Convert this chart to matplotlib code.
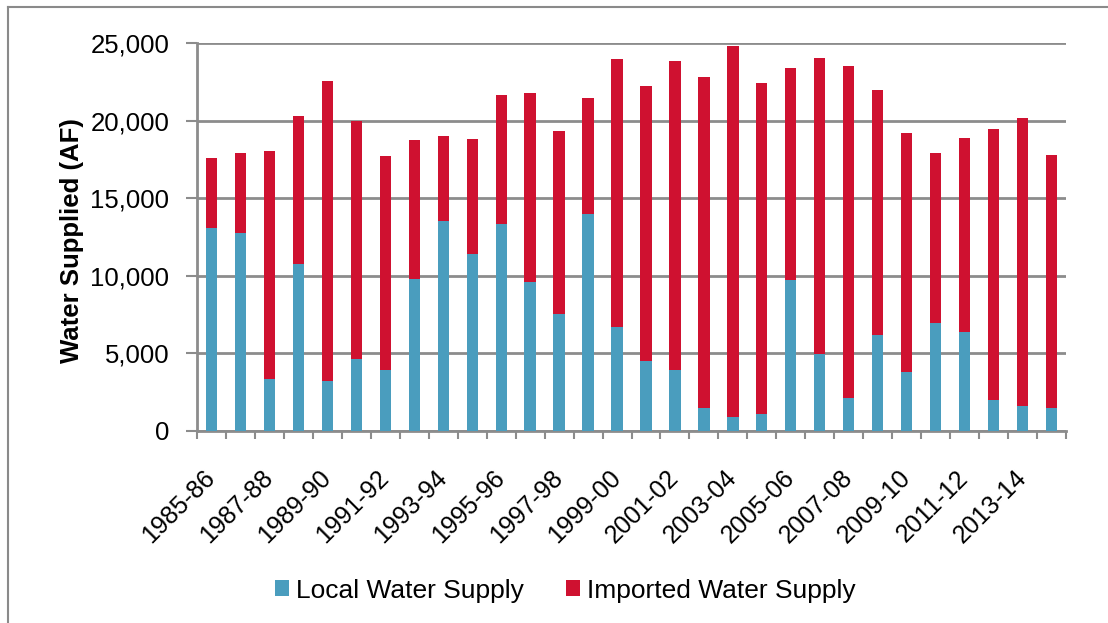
import numpy as np
import matplotlib
matplotlib.use("Agg")
import matplotlib.pyplot as plt
from matplotlib.lines import Line2D

# 年度ラベル（30年度分）
years = ["1985-86", "1986-87", "1987-88", "1988-89", "1989-90", "1990-91",
         "1991-92", "1992-93", "1993-94", "1994-95", "1995-96", "1996-97",
         "1997-98", "1998-99", "1999-00", "2000-01", "2001-02", "2002-03",
         "2003-04", "2004-05", "2005-06", "2006-07", "2007-08", "2008-09",
         "2009-10", "2010-11", "2011-12", "2012-13", "2013-14", "2014-15"]

# 合計値と地元水量（AF）
total = [17600, 17930, 18060, 20320, 22520, 19980, 17690, 18750, 19010, 18840,
         21620, 21790, 19350, 21460, 23940, 22220, 23810, 22780, 24800, 22410,
         23360, 24050, 23550, 21980, 19220, 17890, 18900, 19480, 20150, 17800]
local = [13060, 12740, 3360, 10780, 3230, 4610, 3940, 9780, 13530, 11420,
         13360, 9570, 7520, 13960, 6680, 4530, 3920, 1470, 910, 1080,
         9760, 4960, 2110, 6160, 3790, 6940, 6400, 1980, 1600, 1470]
imported = [t - l for t, l in zip(total, local)]

blue = "#4A9DBE"
red = "#CF1130"
grid_c = "#8C8C8C"

plt.rcParams["font.family"] = ["Liberation Sans", "DejaVu Sans"]

fig = plt.figure(figsize=(11.08, 6.23), dpi=100)
ax = fig.add_axes([197 / 1108, 1 - 431 / 623, 869 / 1108, 388 / 623])

x = np.arange(len(years))
ax.bar(x, local, width=0.39, color=blue, label="Local Water Supply", zorder=3)
ax.bar(x, imported, width=0.39, bottom=local, color=red,
       label="Imported Water Supply", zorder=3)

# 軸の範囲
ax.set_xlim(-0.5, len(years) - 0.5)
ax.set_ylim(0, 25000)

# y軸
ax.set_yticks(range(0, 25001, 5000))
ax.set_yticklabels(["0", "5,000", "10,000", "15,000", "20,000", "25,000"])
ax.yaxis.grid(True, color=grid_c, linewidth=2, zorder=0)
ax.tick_params(axis="y", length=8, width=1.5, color=grid_c, pad=12,
               labelsize=18.5)
ax.set_ylabel("Water Supplied (AF)", fontsize=18.5, fontweight="bold")
ax.yaxis.set_label_coords(-0.13, 0.49)

# x軸：目盛りは区切り位置、ラベルは1年おき
ax.set_xticks(x[::2])
ax.set_xticklabels(years[::2], rotation=45, ha="right", va="center",
                   rotation_mode="anchor")
ax.set_xticks(np.arange(-0.5, len(years)), minor=True)
ax.tick_params(axis="x", which="major", length=0, pad=31, labelsize=18)
ax.tick_params(axis="x", which="minor", length=6, width=1.5, color=grid_c)

for s in ["top", "right"]:
    ax.spines[s].set_visible(False)
for s in ["left", "bottom"]:
    ax.spines[s].set_color(grid_c)
    ax.spines[s].set_linewidth(2)

# 凡例
fig.legend(loc="center", bbox_to_anchor=(0.51, 0.052), ncol=2, frameon=False,
           fontsize=19, handlelength=0.55, handleheight=0.55,
           handletextpad=0.25, columnspacing=1.6)

# 外枠（上と左のみ見える）
fig.add_artist(Line2D([8 / 1108, 1], [1 - 7 / 623, 1 - 7 / 623],
                      color="#8A8A8A", linewidth=1.5))
fig.add_artist(Line2D([8 / 1108, 8 / 1108], [0, 1 - 7 / 623],
                      color="#8A8A8A", linewidth=1.5))

fig.savefig("out.png", dpi=100)
